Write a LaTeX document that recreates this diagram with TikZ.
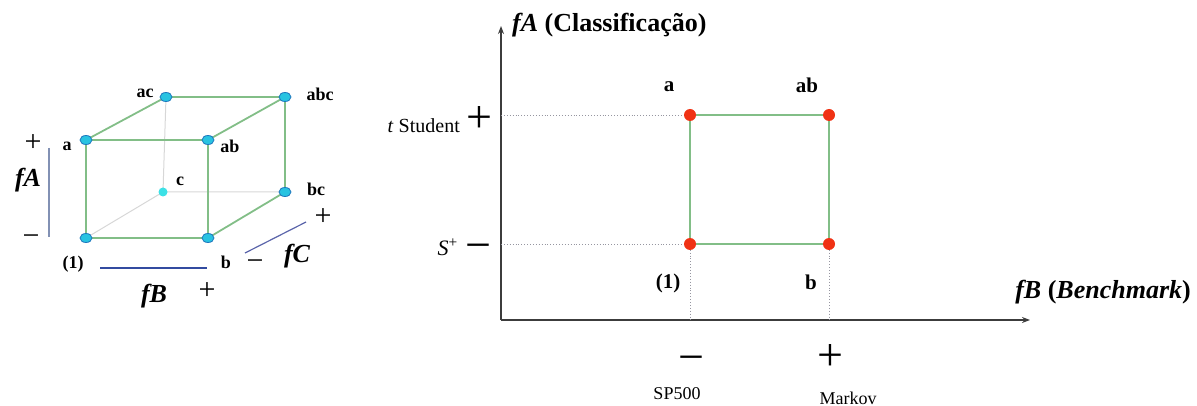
\documentclass[tikz,border=0pt]{standalone}
\usepackage{fontspec}
\setmainfont{Liberation Serif}
\usetikzlibrary{arrows.meta,shapes.geometric}
\definecolor{edgegreen}{RGB}{130,190,135}
\definecolor{hidgray}{RGB}{215,215,215}
\definecolor{cyanfill}{RGB}{40,195,225}
\definecolor{cyanline}{RGB}{30,120,190}
\definecolor{lightcyan}{RGB}{60,225,230}
\definecolor{reddot}{RGB}{240,50,20}
\definecolor{axisgray}{RGB}{60,60,60}
\definecolor{fAline}{RGB}{130,145,180}
\definecolor{fBline}{RGB}{50,75,160}
\definecolor{fCline}{RGB}{90,100,170}
\definecolor{dotgray}{RGB}{150,150,160}
\tikzset{
  cdot/.style={ellipse,fill=cyanfill,draw=cyanline,line width=0.8pt,minimum width=12pt,minimum height=9pt,inner sep=0pt},
  hdot/.style={circle,fill=lightcyan,minimum size=9pt,inner sep=0pt},
  rdot/.style={circle,fill=reddot,minimum size=12pt,inner sep=0pt},
  edge/.style={draw=edgegreen,line width=1.8pt},
  hidden/.style={draw=hidgray,line width=1pt},
  lbl/.style={font=\fontsize{18}{18}\selectfont\bfseries,inner sep=0pt},
  blbl/.style={font=\fontsize{21}{21}\selectfont\bfseries,inner sep=0pt},
  sgn/.style={font=\fontsize{30}{30}\selectfont,inner sep=0pt},
  bsgn/.style={font=\fontsize{46}{46}\selectfont,inner sep=0pt},
  factor/.style={font=\fontsize{26}{26}\selectfont\bfseries\itshape,inner sep=0pt},
  small/.style={font=\fontsize{18}{18}\selectfont,inner sep=0pt},
  guide/.style={draw=dotgray,line width=0.9pt,dotted},
  axis/.style={draw=axisgray,line width=1.3pt,-{Stealth[length=8pt,width=6pt]}}
}
\begin{document}
\begin{tikzpicture}[x=1pt,y=-1pt]
\useasboundingbox (0,0) rectangle (1197,406);
% ---- cube ----
\coordinate (p1) at (86,238);
\coordinate (pa) at (86,140);
\coordinate (pab) at (208,140);
\coordinate (pb) at (208,238);
\coordinate (pac) at (166,97);
\coordinate (pabc) at (285,97);
\coordinate (pc) at (163,192);
\coordinate (pbc) at (285,192);
\draw[hidden] (pac) -- (pc) (pc) -- (p1) (pc) -- (pbc);
\draw[edge] (pa) -- (pac) -- (pabc) -- (pab) -- (pa) -- (p1) -- (pb) -- (pab)
  (pb) -- (pbc) -- (pabc);
\node[hdot] (nc) at (pc) {};
\node[cdot] (n1) at (p1) {};
\node[cdot] (na) at (pa) {};
\node[cdot] (nab) at (pab) {};
\node[cdot] (nb) at (pb) {};
\node[cdot] (nac) at (pac) {};
\node[cdot] (nabc) at (pabc) {};
\node[cdot] (nbc) at (pbc) {};
\node[lbl] (lac) at (145,93) {ac};
\node[lbl] (labc) at (320,94) {abc};
\node[lbl] (la) at (67,146) {a};
\node[lbl] (lab) at (230,146) {ab};
\node[lbl] (lc) at (180,181) {c};
\node[lbl] (lbc) at (316,189) {bc};
\node[lbl] (l1) at (73,264) {(1)};
\node[lbl] (lb) at (226,262) {b};
% factor A
\node[sgn] (aplus) at (33,143) {+};
\node[sgn] (aminus) at (31,240) {−};
\node[factor] (fa) at (28,180) {fA};
\coordinate (fa1) at (49,148);
\coordinate (fa2) at (49,237);
\draw[fAline,line width=1.2pt] (fa1) -- (fa2);
% factor B
\coordinate (fb1) at (100,268);
\coordinate (fb2) at (207,268);
\draw[fBline,line width=1.8pt] (fb1) -- (fb2);
\node[factor] (fb) at (154,296) {fB};
\node[sgn] (bplus) at (207,291) {+};
% factor C
\coordinate (fc1) at (245,253);
\coordinate (fc2) at (306,222);
\draw[fCline,line width=1.2pt] (fc1) -- (fc2);
\node[sgn] (cplus) at (323,217) {+};
\node[factor] (fcl) at (297,256) {fC};
\node[sgn] (cminus) at (255,265) {−};
% ---- right chart ----
\coordinate (O) at (501,320);
\coordinate (yend) at (501,26);
\coordinate (xend) at (1030,320);
\draw[axis] (O) -- (yend);
\draw[axis] (O) -- (xend);
\node[anchor=west,inner sep=0pt,font=\fontsize{26}{26}\selectfont\bfseries] (ytitle) at (512,25) {\textit{fA} (Classificação)};
\node[anchor=east,inner sep=0pt,font=\fontsize{26}{26}\selectfont\bfseries] (xtitle) at (1191,292) {\textit{fB} (\textit{Benchmark})};
\coordinate (ya) at (501,115);
\coordinate (yb) at (501,244);
\coordinate (xa) at (690,320);
\coordinate (xb) at (829,320);
\draw[guide] (ya) -- (690,115);
\draw[guide] (yb) -- (690,244);
\draw[guide] (690,244) -- (xa);
\draw[guide] (829,244) -- (xb);
\draw[edge] (690,115) -- (829,115) -- (829,244) -- (690,244) -- cycle;
\node[rdot] (ra) at (690,115) {};
\node[rdot] (rab) at (829,115) {};
\node[rdot] (r1) at (690,244) {};
\node[rdot] (rb) at (829,244) {};
\node[blbl] (tla) at (669,87) {a};
\node[blbl] (tlab) at (807,85) {ab};
\node[blbl] (tl1) at (668,283) {(1)};
\node[blbl] (tlb) at (811,282) {b};
\node[bsgn] (yplus) at (479,120) {+};
\node[inner sep=0pt,anchor=east,font=\fontsize{20}{20}\selectfont] (tst) at (460,126) {\textit{t} Student};
\node[bsgn] (yminus) at (478,252) {−};
\node[anchor=east,inner sep=0pt,font=\fontsize{22}{22}\selectfont] (splus) at (458,247) {\textit{S}\textsuperscript{+}};
\node[bsgn] (xminus) at (691,364) {−};
\node[small] (sp) at (677,394) {SP500};
\node[bsgn] (xplus) at (830,358) {+};
\node[small] (mk) at (848,398) {Markov};
\end{tikzpicture}
\end{document}
